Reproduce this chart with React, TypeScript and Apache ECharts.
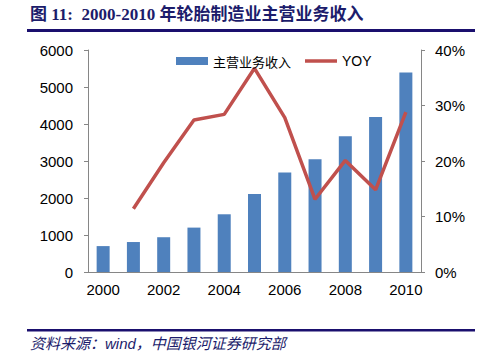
import React, { useEffect, useRef } from "react";
import * as echarts from "echarts";

const years = ["2000","2001","2002","2003","2004","2005","2006","2007","2008","2009","2010"];
const revenue = [700, 810, 940, 1200, 1560, 2110, 2690, 3050, 3670, 4190, 5390];
const yoy = [null, 0.114, 0.197, 0.274, 0.284, 0.367, 0.278, 0.131, 0.201, 0.148, 0.288];
const leftTicks = { min: 0, max: 6000, interval: 1000 };
const rightTicks = { min: 0, max: 0.4, interval: 0.1 };
const titleText = "图 11:  2000-2010 年轮胎制造业主营业务收入";
const sourceText = "资料来源：wind，中国银河证券研究部";

export default function App() {
  const ref = useRef<HTMLDivElement>(null);
  useEffect(() => {
    const chart = echarts.init(ref.current!, null, { renderer: "svg" });
    const axisColor = "#868686";
    chart.setOption({
      animation: false,
      backgroundColor: "#fff",
      grid: { left: 88, right: 79, top: 50, bottom: 84 },
      legend: {
        left: 171,
        top: 49,
        itemWidth: 32,
        itemHeight: 8,
        itemGap: 14,
        textStyle: { fontSize: 14, color: "#000" },
        data: [
          { name: "主营业务收入", icon: "rect", textStyle: { fontFamily: "Noto Sans CJK SC", fontSize: 13 } },
          { name: "YOY", icon: "path://M0,0H32V3.5H0Z", textStyle: { fontFamily: "Liberation Sans, Arial", fontSize: 14 } },
        ],
      },
      xAxis: {
        type: "category",
        data: years,
        boundaryGap: true,
        axisLine: { lineStyle: { color: axisColor, width: 1 } },
        axisTick: { interval: 0, length: 5, lineStyle: { color: axisColor } },
        axisLabel: { interval: 1, color: "#000", fontSize: 15, fontFamily: "Liberation Sans, Arial", margin: 10 },
      },
      yAxis: [
        {
          type: "value",
          ...leftTicks,
          position: "left",
          splitLine: { show: false },
          axisLine: { show: true, lineStyle: { color: axisColor } },
          axisTick: { show: true, length: 4, lineStyle: { color: axisColor } },
          axisLabel: {
            color: "#000",
            fontSize: 15,
            fontFamily: "Liberation Sans, Arial",
            margin: 15,
            formatter: (v: number) => String(v),
          },
        },
        {
          type: "value",
          ...rightTicks,
          position: "right",
          splitLine: { show: false },
          axisLine: { show: true, lineStyle: { color: axisColor } },
          axisTick: { show: true, length: 4, lineStyle: { color: axisColor } },
          axisLabel: {
            color: "#000",
            fontSize: 15,
            fontFamily: "Liberation Sans, Arial",
            margin: 14,
            formatter: (v: number) => Math.round(v * 100) + "%",
          },
        },
      ],
      series: [
        {
          name: "主营业务收入",
          type: "bar",
          data: revenue,
          barWidth: 13,
          itemStyle: { color: "#4F81BD" },
        },
        {
          name: "YOY",
          type: "line",
          yAxisIndex: 1,
          data: yoy,
          showSymbol: false,
          symbol: "none",
          connectNulls: false,
          lineStyle: { color: "#C0504D", width: 3.5 },
          itemStyle: { color: "#C0504D" },
        },
      ],
      graphic: [
        {
          type: "text",
          left: 30,
          top: 6,
          style: {
            text: titleText,
            fontSize: 17,
            fontWeight: "bold",
            fontFamily: "Liberation Serif, Times New Roman, Noto Sans CJK SC",
            fill: "#1C1C6B",
          },
        },
        {
          type: "rect",
          shape: { x: 27, y: 29, width: 448, height: 3 },
          style: { fill: "#1A0F6E" },
        },
        {
          type: "rect",
          shape: { x: 27, y: 329, width: 448, height: 2.5 },
          style: { fill: "#1A0F6E" },
        },
        {
          type: "text",
          left: 30,
          top: 336,
          style: {
            text: sourceText,
            fontSize: 15,
            fontStyle: "italic",
            fontFamily: "Liberation Sans, Arial, Noto Sans CJK SC",
            fill: "#1C1C6B",
          },
        },
      ],
    });
    return () => chart.dispose();
  }, []);
  return <div ref={ref} style={{ width: 500, height: 356, position: "absolute", left: 0, top: 0 }} />;
}
